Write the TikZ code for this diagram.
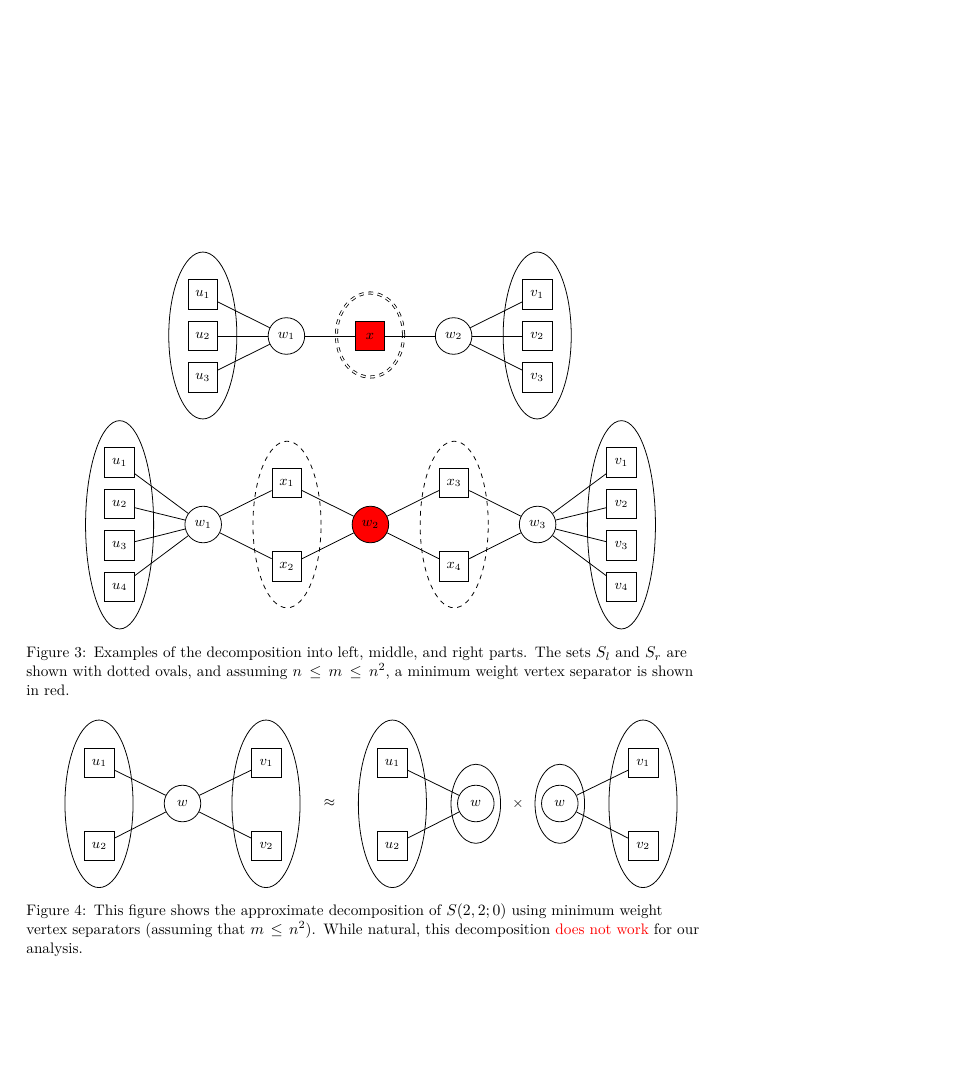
\documentclass[tikz,border=0pt]{standalone}
\begin{document}
\begin{tikzpicture}[x=0.6375pt,y=-0.6375pt,
  every path/.style={line width=0.5pt},
  sq/.style={draw, rectangle, minimum size=18.9pt, inner sep=0pt, font=\small},
  vx/.style={draw, circle, minimum size=23.3pt, inner sep=0pt, font=\small},
  grp/.style={draw},
  sep/.style={draw, dashed},
  sym/.style={inner sep=0pt, font=\small},
  captext/.style={anchor=north west, inner sep=0pt, text width=438pt, font=\fontsize{9.7}{11.93}\selectfont}]
\path[use as bounding box, fill=white] (0,0) rectangle (960,1080);

% ---------------- Figure 3, top row ----------------
\draw[grp] (202.8,335.5) ellipse [x radius=21.7pt, y radius=53.2pt];
\draw[grp] (537.2,335.5) ellipse [x radius=21.7pt, y radius=53.2pt];
\draw[sep, double, double distance=0.9pt] (370,335) ellipse [x radius=21.4pt, y radius=26.8pt];
\node[sq] (tu1) at (202.8,294.5) {$u_1$};
\node[sq] (tu2) at (202.8,336) {$u_2$};
\node[sq] (tu3) at (202.8,377.5) {$u_3$};
\node[vx] (tw1) at (286.4,336) {$w_1$};
\node[sq, fill=red] (tx) at (370,336) {$x$};
\node[vx] (tw2) at (453.6,336) {$w_2$};
\node[sq] (tv1) at (537.2,294.5) {$v_1$};
\node[sq] (tv2) at (537.2,336) {$v_2$};
\node[sq] (tv3) at (537.2,377.5) {$v_3$};
\foreach \i in {1,2,3} {
  \draw (tu\i) -- (tw1);
  \draw (tw2) -- (tv\i);
}
\draw (tw1) -- (tx);
\draw (tx) -- (tw2);

% ---------------- Figure 3, bottom row ----------------
\draw[grp] (119.6,524.8) ellipse [x radius=21.7pt, y radius=66.4pt];
\draw[grp] (621.4,524.8) ellipse [x radius=21.7pt, y radius=66.4pt];
\draw[sep] (287,524.5) ellipse [x radius=21.7pt, y radius=53.1pt];
\draw[sep] (454.2,524.5) ellipse [x radius=21.7pt, y radius=53.1pt];
\node[sq] (bu1) at (119.6,462.5) {$u_1$};
\node[sq] (bu2) at (119.6,504) {$u_2$};
\node[sq] (bu3) at (119.6,545.5) {$u_3$};
\node[sq] (bu4) at (119.6,587) {$u_4$};
\node[vx] (bw1) at (203.2,524.5) {$w_1$};
\node[sq] (bx1) at (286.8,483) {$x_1$};
\node[sq] (bx2) at (286.8,566.3) {$x_2$};
\node[vx, fill=red] (bw2) at (370.4,524.5) {$w_2$};
\node[sq] (bx3) at (454,483) {$x_3$};
\node[sq] (bx4) at (454,566.3) {$x_4$};
\node[vx] (bw3) at (537.6,524.5) {$w_3$};
\node[sq] (bv1) at (621.4,462.5) {$v_1$};
\node[sq] (bv2) at (621.4,504) {$v_2$};
\node[sq] (bv3) at (621.4,545.5) {$v_3$};
\node[sq] (bv4) at (621.4,587) {$v_4$};
\foreach \i in {1,2,3,4} {
  \draw (bu\i) -- (bw1);
  \draw (bw3) -- (bv\i);
}
\draw (bw1) -- (bx1);
\draw (bw1) -- (bx2);
\draw (bx1) -- (bw2);
\draw (bx2) -- (bw2);
\draw (bw2) -- (bx3);
\draw (bw2) -- (bx4);
\draw (bx3) -- (bw3);
\draw (bx4) -- (bw3);

\node[captext] (cap3) at (26,646.6) {\noindent Figure 3: Examples of the decomposition into left, middle, and right parts. The sets $S_l$ and $S_r$ are\linebreak shown with dotted ovals, and assuming $n \le m \le n^2$, a minimum weight vertex separator is shown\linebreak in red.};

% ---------------- Figure 4 ----------------
\draw[grp] (99,803.8) ellipse [x radius=21.7pt, y radius=53.4pt];
\draw[grp] (266,803.8) ellipse [x radius=21.7pt, y radius=53.4pt];
\node[sq] (fu1) at (99.4,762.8) {$u_1$};
\node[sq] (fu2) at (99.4,845.8) {$u_2$};
\node[vx] (fw) at (182.5,803.5) {$w$};
\node[sq] (fv1) at (266.4,762.8) {$v_1$};
\node[sq] (fv2) at (266.4,845.8) {$v_2$};
\draw (fu1) -- (fw);
\draw (fu2) -- (fw);
\draw (fw) -- (fv1);
\draw (fw) -- (fv2);

\node[sym] (approx) at (329.5,803.5) {$\approx$};

\draw[grp] (392.4,803.8) ellipse [x radius=21.7pt, y radius=53.4pt];
\draw[grp] (475.8,803.8) ellipse [x radius=15.8pt, y radius=25.2pt];
\node[sq] (gu1) at (392.4,762.8) {$u_1$};
\node[sq] (gu2) at (392.4,845.8) {$u_2$};
\node[vx] (gw) at (475.8,803.5) {$w$};
\draw (gu1) -- (gw);
\draw (gu2) -- (gw);

\node[sym] (times) at (518,803.5) {$\times$};

\draw[grp] (559.8,803.8) ellipse [x radius=15.8pt, y radius=25.2pt];
\draw[grp] (643,803.8) ellipse [x radius=21.7pt, y radius=53.4pt];
\node[vx] (hw) at (559.8,803.5) {$w$};
\node[sq] (hv1) at (643.2,762.8) {$v_1$};
\node[sq] (hv2) at (643.2,845.8) {$v_2$};
\draw (hw) -- (hv1);
\draw (hw) -- (hv2);

\node[captext] (cap4) at (26,903.8) {\noindent Figure 4: This figure shows the approximate decomposition of $S(2,2;0)$ using minimum weight\linebreak vertex separators (assuming that $m \le n^2$). While natural, this decomposition \textcolor{red}{does not work} for our\linebreak analysis.};
\end{tikzpicture}
\end{document}
